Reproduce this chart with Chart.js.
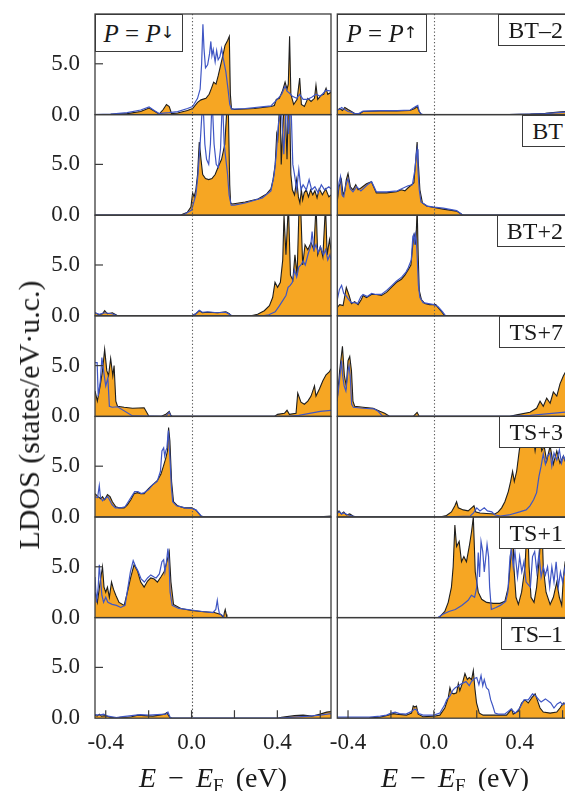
<!DOCTYPE html>
<html><head><meta charset="utf-8">
<script src="https://cdn.jsdelivr.net/npm/chart.js"></script>
<style>
html,body{margin:0;padding:0;background:#fff;overflow:hidden;width:565px;height:791px;position:relative;}
canvas{position:absolute;}
.t{position:absolute;font-family:"Liberation Serif","DejaVu Serif",serif;color:#1a1a1a;white-space:nowrap;line-height:1;}
.box{position:absolute;box-sizing:border-box;border:1.2px solid #3a3a3a;background:#fff;font-family:"Liberation Serif","DejaVu Serif",serif;color:#1a1a1a;display:flex;align-items:center;justify-content:center;white-space:nowrap;z-index:5;line-height:1;}
sub{font-size:0.68em;vertical-align:-0.28em;line-height:0;font-style:normal;}
sub.arr{font-family:"DejaVu Sans",sans-serif;font-size:0.66em;vertical-align:-0.25em;color:#1a1a1a;font-variant-emoji:text;}
</style></head><body>
<script>
// ---------- axis / label data ----------
const energyTickLabels = [-0.4, 0.0, 0.4];
const energyTickMarks = [-0.4, -0.2, 0.0, 0.2, 0.4, 0.6];
const ldosTicks = [0, 5];
const panelLabels = ["BT–2", "BT", "BT+2", "TS+7", "TS+3", "TS+1", "TS–1"];

// ---------- P = P_down column : [E (eV), LDOS] ----------
const dnFill_BTm2 = [[-0.45,0],[-0.377,0.02],[-0.30,0.1],[-0.237,0.3],[-0.198,0.65],[-0.174,0.35],[-0.151,0.05],[-0.132,0.5],[-0.117,1.0],[-0.104,0.8],[-0.093,0.1],[-0.065,0.15],[-0.019,0.4],[0.005,0.6],[0.028,1.2],[0.044,1.45],[0.067,1.6],[0.082,2.0],[0.093,2.6],[0.103,3.2],[0.114,3.0],[0.124,3.8],[0.137,5.0],[0.148,6.0],[0.156,6.8],[0.168,7.3],[0.176,7.7],[0.181,2.0],[0.186,0.6],[0.199,0.5],[0.293,0.6],[0.370,0.8],[0.386,0.9],[0.395,1.5],[0.409,1.6],[0.425,2.4],[0.436,3.2],[0.445,2.5],[0.451,3.0],[0.457,7.7],[0.463,2.0],[0.476,1.0],[0.492,1.5],[0.504,3.6],[0.512,1.0],[0.526,0.8],[0.542,1.6],[0.557,1.3],[0.573,1.6],[0.580,2.9],[0.588,1.5],[0.604,1.9],[0.616,2.0],[0.627,2.6],[0.635,2.0],[0.65,2.2]];
const dnBlue_BTm2 = [[-0.45,0],[-0.377,0.05],[-0.30,0.2],[-0.237,0.45],[-0.198,0.75],[-0.174,0.4],[-0.151,0.1],[-0.132,0.15],[-0.104,0.2],[-0.065,0.3],[-0.019,0.6],[0.005,0.8],[0.028,1.6],[0.040,2.5],[0.047,5.0],[0.053,8.9],[0.058,6.5],[0.065,4.6],[0.075,4.9],[0.084,6.0],[0.090,7.2],[0.095,5.8],[0.101,6.4],[0.110,5.2],[0.117,6.3],[0.124,5.4],[0.132,5.7],[0.140,6.5],[0.148,5.5],[0.160,4.2],[0.170,2.5],[0.178,1.0],[0.186,0.55],[0.25,0.6],[0.37,0.85],[0.395,1.4],[0.42,2.0],[0.436,2.8],[0.445,2.3],[0.457,2.1],[0.47,1.8],[0.49,1.6],[0.504,2.0],[0.52,1.5],[0.54,1.5],[0.56,1.7],[0.58,2.0],[0.60,1.8],[0.627,2.4],[0.65,2.3]];

const dnFill_BT = [[-0.45,0],[-0.05,0],[-0.042,0.1],[-0.019,0.3],[-0.003,0.8],[0.005,2.2],[0.012,1.8],[0.020,2.5],[0.028,4.0],[0.036,7.2],[0.044,5.5],[0.052,4.0],[0.065,3.6],[0.080,3.5],[0.095,3.6],[0.110,4.0],[0.125,4.8],[0.140,5.5],[0.155,7.0],[0.163,9.9],[0.172,9.9],[0.178,3.0],[0.182,1.2],[0.19,1.1],[0.25,1.3],[0.31,1.6],[0.35,2.1],[0.37,2.6],[0.38,3.5],[0.39,5.0],[0.397,8.0],[0.402,7.5],[0.408,9.9],[0.414,9.9],[0.418,5.0],[0.425,8.5],[0.429,9.9],[0.438,9.9],[0.445,5.5],[0.450,9.9],[0.458,9.9],[0.463,4.0],[0.47,2.5],[0.48,2.0],[0.49,3.5],[0.498,1.8],[0.505,1.2],[0.512,2.5],[0.518,1.5],[0.525,2.2],[0.535,2.5],[0.545,1.8],[0.555,2.5],[0.565,2.0],[0.575,2.4],[0.585,1.7],[0.595,2.6],[0.61,2.0],[0.625,2.6],[0.64,1.8],[0.65,2.0]];
const dnBlue_BT = [[-0.45,0],[-0.04,0],[0.0,0.5],[0.02,2.0],[0.03,4.0],[0.04,7.0],[0.048,9.9],[0.056,9.9],[0.062,7.0],[0.07,5.5],[0.08,5.0],[0.088,7.0],[0.093,9.9],[0.099,9.9],[0.105,7.0],[0.115,5.0],[0.125,4.7],[0.135,6.5],[0.141,9.9],[0.147,9.9],[0.152,7.0],[0.16,5.5],[0.168,4.0],[0.175,2.0],[0.185,1.0],[0.20,1.0],[0.25,1.2],[0.33,1.7],[0.37,2.4],[0.385,4.0],[0.395,6.0],[0.405,9.0],[0.412,9.9],[0.42,9.9],[0.43,6.0],[0.438,9.9],[0.445,9.9],[0.452,8.0],[0.458,9.9],[0.465,9.9],[0.472,5.0],[0.48,4.0],[0.49,2.5],[0.50,4.5],[0.51,2.5],[0.52,3.0],[0.535,2.5],[0.548,3.5],[0.56,2.5],[0.575,2.8],[0.59,2.2],[0.605,3.0],[0.62,2.5],[0.64,2.8],[0.65,2.6]];

const dnFill_BTp2 = [[-0.45,0.3],[-0.431,0.1],[-0.415,0.2],[-0.405,0.5],[-0.392,0.2],[-0.369,0.3],[-0.353,0.1],[-0.345,0],[0.0,0],[0.02,0.2],[0.036,0.5],[0.051,0.3],[0.075,0.35],[0.121,0.3],[0.16,0.4],[0.176,0.2],[0.184,0],[0.277,0],[0.308,0.15],[0.339,0.5],[0.363,1.0],[0.378,1.8],[0.389,3.3],[0.401,2.8],[0.414,3.3],[0.425,5.5],[0.431,9.9],[0.435,9.9],[0.44,6.0],[0.449,9.9],[0.453,9.9],[0.461,4.0],[0.472,3.5],[0.482,6.0],[0.492,4.0],[0.500,9.9],[0.51,9.9],[0.518,5.0],[0.529,7.0],[0.542,6.5],[0.557,7.2],[0.57,6.5],[0.578,9.9],[0.582,9.9],[0.588,6.0],[0.601,6.8],[0.612,5.8],[0.622,9.9],[0.626,9.9],[0.632,6.0],[0.643,7.5],[0.65,6.5]];
const dnBlue_BTp2 = [[-0.45,0.3],[-0.43,0.15],[-0.405,0.3],[-0.37,0.2],[-0.345,0],[0.0,0],[0.02,0.2],[0.036,0.55],[0.05,0.35],[0.075,0.4],[0.12,0.3],[0.16,0.35],[0.18,0.1],[0.19,0],[0.33,0],[0.36,0.1],[0.39,0.4],[0.41,1.0],[0.425,1.5],[0.44,2.0],[0.45,2.8],[0.46,3.0],[0.47,3.3],[0.48,4.5],[0.49,3.8],[0.50,4.8],[0.51,5.0],[0.52,5.4],[0.53,5.0],[0.545,6.2],[0.555,6.8],[0.562,8.3],[0.57,6.5],[0.58,7.0],[0.59,6.2],[0.60,6.8],[0.615,6.0],[0.625,6.5],[0.635,5.5],[0.645,6.0],[0.65,5.5]];

const dnFill_TSp7 = [[-0.45,2.5],[-0.439,1.5],[-0.426,3.0],[-0.415,4.5],[-0.405,6.6],[-0.395,4.5],[-0.387,4.0],[-0.377,5.7],[-0.367,4.0],[-0.361,5.0],[-0.353,1.5],[-0.345,1.0],[-0.314,0.9],[-0.275,0.8],[-0.221,0.85],[-0.198,0],[-0.143,0],[-0.12,0.2],[-0.104,0.5],[-0.096,0.1],[-0.089,0],[0.386,0],[0.401,0.2],[0.433,0.3],[0.445,0.6],[0.456,0.2],[0.487,0.3],[0.495,2.3],[0.51,1.4],[0.526,1.2],[0.542,1.5],[0.557,2.0],[0.573,3.0],[0.58,2.0],[0.596,2.7],[0.612,3.5],[0.627,4.1],[0.643,4.4],[0.65,4.7]];
const dnBlue_TSp7 = [[-0.45,5.3],[-0.44,5.3],[-0.435,2.0],[-0.425,3.5],[-0.418,5.8],[-0.41,4.5],[-0.40,3.0],[-0.39,3.8],[-0.383,1.0],[-0.37,0.9],[-0.345,0.95],[-0.275,0.05],[-0.12,0],[-0.104,0.4],[-0.096,0],[0.45,0],[0.5,0.1],[0.55,0.3],[0.6,0.5],[0.65,0.6]];

const dnFill_TSp3 = [[-0.45,2.3],[-0.436,2.0],[-0.423,1.8],[-0.415,2.0],[-0.405,1.7],[-0.392,2.2],[-0.38,2.0],[-0.369,1.5],[-0.353,1.0],[-0.338,0.9],[-0.314,0.9],[-0.299,1.2],[-0.283,1.7],[-0.268,2.3],[-0.252,2.4],[-0.237,2.3],[-0.221,2.3],[-0.205,2.7],[-0.19,3.0],[-0.174,3.3],[-0.159,3.6],[-0.143,4.2],[-0.131,5.0],[-0.12,5.8],[-0.112,6.5],[-0.107,8.8],[-0.101,7.5],[-0.093,3.5],[-0.084,1.5],[-0.065,1.1],[-0.034,0.9],[0,0.9],[0.02,0.7],[0.044,0.1],[0.059,0],[0.55,0],[0.6,0.03],[0.65,0.1]];
const dnBlue_TSp3 = [[-0.45,2.0],[-0.438,1.9],[-0.43,3.1],[-0.425,2.0],[-0.415,1.6],[-0.405,1.8],[-0.39,2.0],[-0.38,1.6],[-0.37,1.2],[-0.355,0.9],[-0.33,0.9],[-0.31,1.0],[-0.295,1.5],[-0.28,2.0],[-0.265,2.5],[-0.25,2.5],[-0.235,2.3],[-0.22,2.4],[-0.2,2.7],[-0.18,3.2],[-0.16,3.5],[-0.145,4.5],[-0.138,6.5],[-0.13,6.8],[-0.125,6.0],[-0.12,6.5],[-0.115,6.8],[-0.108,8.5],[-0.104,7.0],[-0.1,5.5],[-0.094,3.0],[-0.088,1.5],[-0.07,1.1],[-0.03,0.9],[0,0.85],[0.02,0.7],[0.045,0.1],[0.06,0],[0.6,0],[0.65,0.05]];

const dnFill_TSp1 = [[-0.45,2.5],[-0.439,1.5],[-0.426,3.5],[-0.415,5.0],[-0.408,3.0],[-0.40,2.5],[-0.392,3.0],[-0.383,2.0],[-0.373,3.5],[-0.364,2.8],[-0.353,2.2],[-0.338,1.5],[-0.314,1.2],[-0.299,2.5],[-0.283,4.0],[-0.268,5.2],[-0.252,4.6],[-0.237,3.5],[-0.221,3.0],[-0.205,3.6],[-0.19,3.9],[-0.174,3.8],[-0.159,3.5],[-0.143,4.0],[-0.128,4.5],[-0.115,5.5],[-0.104,6.5],[-0.096,3.5],[-0.084,1.3],[-0.05,0.9],[0,0.7],[0.044,0.6],[0.106,0.5],[0.137,0.3],[0.149,0],[0.153,0.5],[0.157,0.8],[0.162,0.3],[0.165,0],[0.65,0]];
const dnBlue_TSp1 = [[-0.45,4.0],[-0.443,1.5],[-0.435,3.0],[-0.43,5.2],[-0.425,4.0],[-0.418,2.2],[-0.41,1.5],[-0.40,2.0],[-0.39,1.5],[-0.37,1.3],[-0.35,1.2],[-0.33,1.0],[-0.31,1.2],[-0.30,2.5],[-0.285,4.5],[-0.272,5.6],[-0.26,5.0],[-0.25,4.6],[-0.235,3.8],[-0.22,3.5],[-0.205,3.9],[-0.19,4.2],[-0.175,4.0],[-0.165,3.9],[-0.15,4.3],[-0.138,5.5],[-0.13,5.7],[-0.124,4.5],[-0.118,5.3],[-0.11,6.8],[-0.105,5.5],[-0.10,2.5],[-0.09,1.2],[-0.06,0.9],[0,0.75],[0.05,0.6],[0.10,0.5],[0.113,0.8],[0.12,1.7],[0.125,0.9],[0.13,0.4],[0.145,0.2],[0.15,0],[0.65,0]];

const dnFill_TSm1 = [[-0.45,0.3],[-0.44,0.2],[-0.43,0.4],[-0.42,0.2],[-0.40,0.25],[-0.38,0.1],[-0.35,0.05],[-0.33,0.1],[-0.30,0.1],[-0.28,0.15],[-0.25,0.3],[-0.22,0.25],[-0.18,0.2],[-0.15,0.3],[-0.125,0.4],[-0.115,0.55],[-0.108,0.3],[-0.10,0.05],[-0.09,0],[0.40,0],[0.42,0.1],[0.48,0.25],[0.52,0.3],[0.56,0.2],[0.60,0.4],[0.63,0.6],[0.65,0.65]];
const dnBlue_TSm1 = [[-0.45,0.35],[-0.43,0.3],[-0.41,0.4],[-0.39,0.2],[-0.35,0.05],[-0.32,0.15],[-0.28,0.25],[-0.24,0.35],[-0.2,0.3],[-0.16,0.35],[-0.12,0.4],[-0.11,0.6],[-0.10,0.1],[-0.09,0],[0.40,0.02],[0.48,0.1],[0.55,0.2],[0.60,0.3],[0.65,0.45]];

// ---------- P = P_up column ----------
const upFill_BTm2 = [[-0.451,0.4],[-0.439,0.6],[-0.426,0.4],[-0.415,0.7],[-0.40,0.5],[-0.384,0.3],[-0.369,0.1],[-0.349,0.05],[-0.33,0.3],[-0.252,0.35],[-0.174,0.35],[-0.112,0.4],[-0.089,0.6],[-0.078,0.8],[-0.068,0.3],[-0.058,0],[0.35,0],[0.45,0.05],[0.52,0.12],[0.58,0.25],[0.65,0.35]];
const upBlue_BTm2 = [[-0.451,0.5],[-0.44,0.5],[-0.43,0.7],[-0.415,0.5],[-0.40,0.3],[-0.385,0.25],[-0.37,0.1],[-0.35,0.1],[-0.33,0.35],[-0.25,0.4],[-0.17,0.4],[-0.11,0.45],[-0.085,0.8],[-0.075,0.9],[-0.068,0.3],[-0.058,0.05],[-0.05,0],[0.35,0],[0.45,0.05],[0.52,0.1],[0.58,0.2],[0.65,0.3]];

const upFill_BT = [[-0.451,1.2],[-0.442,2.8],[-0.431,3.5],[-0.423,2.0],[-0.415,2.4],[-0.408,3.5],[-0.40,4.1],[-0.389,2.8],[-0.377,2.5],[-0.364,3.0],[-0.353,2.5],[-0.338,2.7],[-0.314,3.1],[-0.291,3.3],[-0.268,2.2],[-0.252,2.2],[-0.221,2.2],[-0.174,2.3],[-0.151,2.5],[-0.135,2.4],[-0.12,2.7],[-0.104,3.0],[-0.093,3.2],[-0.084,5.5],[-0.078,7.2],[-0.072,5.0],[-0.065,2.5],[-0.053,1.2],[-0.034,0.9],[0,0.75],[0.044,0.6],[0.106,0.4],[0.129,0.1],[0.137,0],[0.65,0]];
const upBlue_BT = [[-0.451,1.5],[-0.442,3.2],[-0.435,3.8],[-0.428,2.0],[-0.42,1.8],[-0.41,3.0],[-0.40,3.6],[-0.39,2.6],[-0.377,2.3],[-0.36,2.8],[-0.34,2.4],[-0.31,3.0],[-0.29,3.3],[-0.268,2.3],[-0.22,2.3],[-0.17,2.4],[-0.15,2.6],[-0.12,2.9],[-0.10,3.0],[-0.088,4.5],[-0.082,6.0],[-0.078,6.5],[-0.074,4.5],[-0.068,2.5],[-0.06,1.3],[-0.03,0.9],[0,0.8],[0.044,0.7],[0.106,0.45],[0.13,0.1],[0.14,0],[0.65,0]];

const upFill_BTp2 = [[-0.451,0.8],[-0.439,1.1],[-0.423,1.0],[-0.408,2.8],[-0.395,2.0],[-0.384,1.2],[-0.369,1.4],[-0.353,1.1],[-0.338,1.6],[-0.33,2.0],[-0.314,1.8],[-0.291,2.1],[-0.268,2.1],[-0.244,2.0],[-0.221,2.3],[-0.198,2.8],[-0.174,3.3],[-0.151,3.6],[-0.135,4.0],[-0.12,4.5],[-0.107,5.0],[-0.096,7.5],[-0.089,8.0],[-0.084,7.0],[-0.079,9.9],[-0.077,9.9],[-0.073,6.0],[-0.068,2.5],[-0.058,1.6],[-0.042,1.2],[-0.019,1.1],[0.009,1.1],[0.02,0.8],[0.036,0.4],[0.051,0],[0.65,0]];
const upBlue_BTp2 = [[-0.451,1.5],[-0.44,2.6],[-0.43,3.0],[-0.42,2.2],[-0.41,2.0],[-0.40,1.7],[-0.385,1.3],[-0.37,1.3],[-0.355,1.2],[-0.34,1.9],[-0.33,2.1],[-0.31,1.9],[-0.29,2.2],[-0.27,2.1],[-0.245,2.1],[-0.22,2.5],[-0.20,2.9],[-0.175,3.4],[-0.15,3.8],[-0.13,4.3],[-0.12,4.7],[-0.105,5.5],[-0.098,7.8],[-0.094,8.0],[-0.09,7.0],[-0.086,8.0],[-0.082,7.5],[-0.078,6.0],[-0.072,3.0],[-0.065,1.8],[-0.05,1.3],[0,1.1],[0.02,0.9],[0.04,0.4],[0.055,0],[0.65,0]];

const upFill_TSp7 = [[-0.451,1.5],[-0.439,4.5],[-0.426,6.9],[-0.417,4.0],[-0.408,3.0],[-0.40,5.5],[-0.392,5.9],[-0.384,4.5],[-0.377,1.5],[-0.369,1.0],[-0.33,0.9],[-0.283,0.8],[-0.252,0.5],[-0.229,0.3],[-0.205,0],[-0.096,0],[-0.078,0.4],[-0.068,0],[0.355,0],[0.386,0.15],[0.448,0.4],[0.479,0.8],[0.495,1.5],[0.51,1.0],[0.526,1.8],[0.542,1.3],[0.557,2.4],[0.573,2.0],[0.588,3.2],[0.604,4.0],[0.612,4.3],[0.65,5.0]];
const upBlue_TSp7 = [[-0.451,1.5],[-0.44,3.5],[-0.43,5.5],[-0.425,4.0],[-0.418,3.0],[-0.41,2.5],[-0.40,4.5],[-0.395,5.0],[-0.39,4.0],[-0.383,1.2],[-0.375,0.9],[-0.33,0.8],[-0.28,0.75],[-0.26,0.5],[-0.24,0.05],[-0.2,0],[0.35,0],[0.4,0.05],[0.45,0.1],[0.5,0.2],[0.55,0.3],[0.6,0.4],[0.65,0.5]];

const upFill_TSp3 = [[-0.451,0.3],[-0.442,0.6],[-0.431,0.3],[-0.42,0.5],[-0.408,0.2],[-0.392,0.3],[-0.377,0.1],[-0.361,0],[0.028,0],[0.059,0.15],[0.082,0.5],[0.098,1.1],[0.106,1.5],[0.114,0.9],[0.137,0.7],[0.16,0.6],[0.176,0.9],[0.187,1.1],[0.196,0.5],[0.215,0.4],[0.246,0.35],[0.285,0.3],[0.30,0.5],[0.316,0.9],[0.331,1.5],[0.347,2.5],[0.358,3.5],[0.367,4.5],[0.375,3.5],[0.386,4.5],[0.398,6.5],[0.409,8.0],[0.417,9.9],[0.429,8.0],[0.44,9.9],[0.456,9.0],[0.472,6.5],[0.487,8.5],[0.503,6.5],[0.514,7.0],[0.526,5.5],[0.542,7.0],[0.557,5.2],[0.573,6.5],[0.588,5.3],[0.604,6.0],[0.612,5.5],[0.65,5.5]];
const upBlue_TSp3 = [[-0.451,0.4],[-0.44,0.5],[-0.43,0.3],[-0.42,0.4],[-0.40,0.2],[-0.38,0.1],[-0.36,0],[0.03,0],[0.10,0.05],[0.17,0.1],[0.185,0.4],[0.20,0.9],[0.215,0.6],[0.235,0.9],[0.25,0.6],[0.27,0.5],[0.285,0.2],[0.31,0.1],[0.35,0.2],[0.40,0.5],[0.43,0.7],[0.448,1.1],[0.465,1.7],[0.479,2.4],[0.49,4.0],[0.50,5.0],[0.51,6.2],[0.52,5.2],[0.53,6.0],[0.542,6.3],[0.55,5.0],[0.56,6.3],[0.573,5.6],[0.585,6.6],[0.595,5.3],[0.604,6.0],[0.612,5.6],[0.65,5.6]];

const upFill_TSp1 = [[-0.451,0],[0.02,0],[0.028,0.1],[0.051,0.6],[0.067,1.5],[0.082,3.0],[0.09,5.0],[0.098,9.1],[0.106,7.0],[0.118,7.5],[0.129,5.5],[0.14,6.0],[0.152,5.5],[0.165,7.0],[0.176,8.5],[0.184,9.9],[0.193,4.5],[0.207,2.5],[0.223,1.8],[0.246,1.5],[0.277,1.4],[0.308,1.4],[0.331,1.6],[0.347,3.0],[0.359,6.0],[0.367,9.9],[0.373,5.0],[0.383,2.0],[0.394,1.3],[0.409,2.5],[0.425,5.0],[0.436,9.9],[0.444,5.0],[0.453,2.0],[0.467,1.5],[0.479,3.0],[0.492,6.0],[0.503,9.9],[0.51,5.0],[0.523,2.5],[0.542,1.3],[0.557,2.0],[0.573,3.5],[0.585,2.0],[0.596,1.2],[0.604,4.0],[0.612,5.5],[0.65,5.5]];
const upBlue_TSp1 = [[-0.451,0],[0.02,0],[0.04,0.3],[0.07,0.6],[0.10,0.8],[0.13,1.2],[0.16,1.7],[0.175,2.2],[0.19,2.0],[0.20,3.0],[0.207,6.4],[0.213,4.0],[0.22,7.5],[0.228,6.5],[0.235,4.5],[0.24,5.5],[0.248,7.2],[0.255,6.0],[0.26,3.0],[0.268,0.8],[0.29,1.0],[0.31,1.2],[0.335,1.6],[0.345,2.5],[0.355,6.0],[0.362,6.7],[0.37,5.0],[0.378,6.5],[0.39,4.0],[0.40,6.0],[0.41,4.5],[0.42,5.5],[0.43,3.5],[0.45,3.0],[0.46,6.0],[0.47,6.5],[0.48,4.5],[0.49,6.3],[0.50,4.0],[0.51,5.0],[0.52,4.2],[0.53,5.0],[0.54,3.0],[0.55,5.0],[0.56,3.5],[0.57,5.5],[0.58,3.0],[0.59,4.5],[0.60,3.5],[0.612,5.0],[0.65,5.0]];

const upFill_TSm1 = [[-0.451,0],[-0.30,0],[-0.299,0.05],[-0.252,0.1],[-0.213,0.3],[-0.19,0.45],[-0.174,0.4],[-0.128,0.3],[-0.104,0.5],[-0.096,1.2],[-0.089,1.1],[-0.081,1.2],[-0.073,0.4],[-0.05,0.15],[0,0.2],[0.028,0.3],[0.051,1.0],[0.067,2.0],[0.075,3.0],[0.082,2.5],[0.093,2.4],[0.106,2.5],[0.114,3.4],[0.121,2.7],[0.134,3.5],[0.145,4.4],[0.156,3.8],[0.165,4.0],[0.176,3.8],[0.184,4.7],[0.191,3.0],[0.199,1.5],[0.212,0.5],[0.23,0.3],[0.293,0.3],[0.339,0.3],[0.355,0.7],[0.363,0.9],[0.37,0.4],[0.394,0.7],[0.409,1.5],[0.425,1.8],[0.44,1.5],[0.456,2.0],[0.472,2.4],[0.482,1.8],[0.495,1.0],[0.51,0.6],[0.542,0.5],[0.573,0.6],[0.588,1.0],[0.604,1.5],[0.612,1.4],[0.65,1.4]];
const upBlue_TSm1 = [[-0.451,0.1],[-0.30,0.1],[-0.25,0.2],[-0.22,0.3],[-0.20,0.5],[-0.18,0.6],[-0.16,0.45],[-0.13,0.4],[-0.10,0.7],[-0.09,0.9],[-0.08,0.8],[-0.07,0.45],[-0.05,0.3],[0,0.3],[0.028,0.5],[0.05,1.3],[0.06,1.8],[0.075,2.2],[0.09,2.8],[0.10,3.0],[0.115,3.2],[0.13,3.4],[0.15,3.6],[0.165,3.2],[0.175,3.6],[0.19,3.9],[0.20,4.0],[0.21,3.3],[0.22,4.2],[0.228,3.2],[0.235,3.8],[0.245,3.0],[0.255,2.8],[0.265,1.8],[0.275,1.2],[0.285,0.5],[0.30,0.4],[0.33,0.4],[0.36,0.9],[0.38,0.5],[0.40,1.0],[0.42,1.8],[0.44,1.8],[0.46,2.4],[0.475,2.2],[0.49,1.8],[0.50,1.6],[0.52,1.9],[0.545,1.5],[0.56,1.0],[0.575,1.4],[0.59,1.6],[0.60,1.3],[0.612,1.5],[0.65,1.5]];

const downColumn = [[dnFill_BTm2,dnBlue_BTm2],[dnFill_BT,dnBlue_BT],[dnFill_BTp2,dnBlue_BTp2],[dnFill_TSp7,dnBlue_TSp7],[dnFill_TSp3,dnBlue_TSp3],[dnFill_TSp1,dnBlue_TSp1],[dnFill_TSm1,dnBlue_TSm1]];
const upColumn = [[upFill_BTm2,upBlue_BTm2],[upFill_BT,upBlue_BT],[upFill_BTp2,upBlue_BTp2],[upFill_TSp7,upBlue_TSp7],[upFill_TSp3,upBlue_TSp3],[upFill_TSp1,upBlue_TSp1],[upFill_TSm1,upBlue_TSm1]];

// ---------- styling / layout ----------
const ORANGE = '#F6A623', BLUE = '#3F56C4', DARK = '#1e1e1e', FRAME = '#3c3c3c';
const FONT = '"Liberation Serif", "DejaVu Serif", serif';
const COLS = [
  {cl: 0, cw: 345, left: 95, right: 331, yAxis: true},
  {cl: 330, cw: 262, left: 337.3, right: 573.3, yAxis: false}
];
const TOP0 = 14, PH = 100.6, NP = 7, XH = 52;

const decor = {
  id: 'decor',
  afterDatasetsDraw(chart, args, o) {
    const {ctx, chartArea: a, scales: {x, y}} = chart;
    ctx.save();
    const x0 = Math.round(x.getPixelForValue(0)) + 0.5;
    ctx.strokeStyle = '#5a5a5a'; ctx.lineWidth = 1.1; ctx.setLineDash([1.3, 2.2]);
    ctx.beginPath(); ctx.moveTo(x0, a.top); ctx.lineTo(x0, a.bottom); ctx.stroke();
    ctx.setLineDash([]);
    ctx.strokeStyle = FRAME; ctx.lineWidth = 1.2;
    if (o.yTicks) {
      ldosTicks.forEach(v => { if (v === 0) return; const py = y.getPixelForValue(v);
        ctx.beginPath(); ctx.moveTo(a.left, py); ctx.lineTo(a.left + 8, py); ctx.stroke(); });
    }
    if (o.xTicks) {
      energyTickMarks.forEach(v => { const px = x.getPixelForValue(v);
        ctx.beginPath(); ctx.moveTo(px, a.bottom); ctx.lineTo(px, a.bottom - 8); ctx.stroke(); });
    }
    ctx.lineWidth = 1.3;
    ctx.strokeRect(a.left, a.top, a.right - a.left, a.bottom - a.top);
    ctx.restore();
  }
};

function pts(arr) { return arr.map(p => ({x: p[0], y: p[1]})); }

function buildPanel(col, row, fillArr, blueArr) {
  const c = COLS[col];
  const T = TOP0 + row * PH, B = T + PH;
  const bottom = row === NP - 1;
  const ct = Math.floor(T) - 16;
  const ch = bottom ? (791 - ct) : (Math.ceil(B) + 16 - ct);
  const cv = document.createElement('canvas');
  cv.width = c.cw; cv.height = ch;
  cv.style.left = c.cl + 'px'; cv.style.top = ct + 'px';
  cv.style.width = c.cw + 'px'; cv.style.height = ch + 'px';
  document.body.appendChild(cv);
  const pad = {
    top: T - ct,
    bottom: ch - (B - ct) - (bottom ? XH : 0),
    left: c.yAxis ? 0 : (c.left - c.cl),
    right: c.cl + c.cw - c.right
  };
  new Chart(cv, {
    type: 'line',
    data: { datasets: [
      { data: pts(blueArr), borderColor: BLUE, borderWidth: 1.2, pointRadius: 0, fill: false, tension: 0 },
      { data: pts(fillArr), borderColor: DARK, borderWidth: 1.1, backgroundColor: ORANGE, fill: 'origin', pointRadius: 0, tension: 0 }
    ]},
    options: {
      responsive: false, maintainAspectRatio: false, animation: false, devicePixelRatio: 1,
      layout: { padding: pad, autoPadding: false },
      plugins: { legend: {display: false}, tooltip: {enabled: false}, decor: {yTicks: c.yAxis, xTicks: bottom} },
      scales: {
        x: {
          type: 'linear', min: -0.45, max: 0.65, display: bottom,
          grid: {display: false, drawTicks: false}, border: {display: false},
          ticks: { color: '#222', font: {family: FONT, size: 23}, padding: 11, maxRotation: 0,
                   callback: v => Number(v).toFixed(1) },
          afterBuildTicks: s => { s.ticks = energyTickLabels.map(v => ({value: v})); },
          afterFit: s => { s.height = bottom ? XH : 0; s.paddingLeft = 0; s.paddingRight = 0; }
        },
        y: {
          type: 'linear', min: 0, max: 9.9, display: c.yAxis,
          grid: {display: false, drawTicks: false}, border: {display: false},
          ticks: { color: '#222', font: {family: FONT, size: 23}, padding: 15,
                   callback: v => Number(v).toFixed(1) },
          afterBuildTicks: s => { s.ticks = ldosTicks.map(v => ({value: v})); },
          afterFit: s => { s.width = c.yAxis ? (c.left - c.cl) : 0; s.paddingTop = 0; s.paddingBottom = 0; }
        }
      }
    },
    plugins: [decor]
  });
}

downColumn.forEach((d, i) => buildPanel(0, i, d[0], d[1]));
upColumn.forEach((d, i) => buildPanel(1, i, d[0], d[1]));

// ---------- text overlays ----------
function addEl(cls, html, css) {
  const d = document.createElement('div');
  d.className = cls; d.innerHTML = html; Object.assign(d.style, css);
  document.body.appendChild(d); return d;
}
addEl('box', '<i>P</i>&nbsp;=&nbsp;<i>P</i><sub class="arr">↓</sub>', {left: '95px', top: '14px', width: '88px', height: '38px', fontSize: '25px'});
addEl('box', '<i>P</i>&nbsp;=&nbsp;<i>P</i><sub class="arr">↑</sub>', {left: '337px', top: '14px', width: '90px', height: '38px', fontSize: '25px'});
panelLabels.forEach((lab, i) => {
  const T = TOP0 + i * PH;
  addEl('box', lab, {right: '-8px', top: T + 'px', height: '32px', padding: '0 9px', fontSize: '24px'});
});
addEl('t', 'LDOS (states/eV·u.c.)', {left: '29px', top: '415px', fontSize: '30px', transform: 'translate(-50%,-50%) rotate(-90deg)'});
addEl('t', '<i>E</i> − <i>E</i><sub>F</sub> (eV)', {left: '213px', top: '778px', fontSize: '28px', wordSpacing: '5px', transform: 'translate(-50%,-50%)'});
addEl('t', '<i>E</i> − <i>E</i><sub>F</sub> (eV)', {left: '455px', top: '778px', fontSize: '28px', wordSpacing: '5px', transform: 'translate(-50%,-50%)'});
</script>
</body></html>
